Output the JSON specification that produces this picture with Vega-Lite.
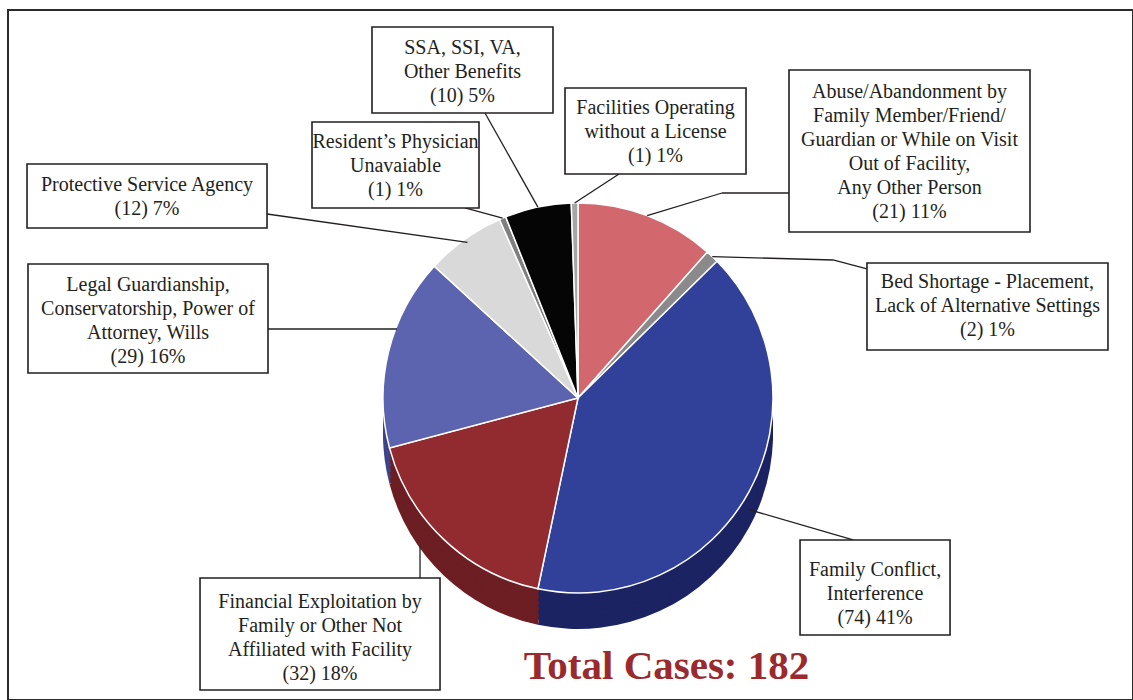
{
  "$schema": "https://vega.github.io/schema/vega-lite/v6.json",
  "width": 1125,
  "height": 690,
  "autosize": {"type": "none"},
  "padding": {"left": 8, "top": 10, "right": 0, "bottom": 0},
  "background": "white",
  "config": {"view": {"stroke": "#2b2b2b", "strokeWidth": 2}},
  "title": {"text": "Total Cases: 182", "orient": "bottom", "frame": "group", "anchor": "middle", "offset": -53, "dx": 96, "font": "Liberation Serif", "fontSize": 41, "fontWeight": "bold", "color": "#9B2A2F"},
  "data": {"values": [
    {"rank": 1, "category": "Abuse/Abandonment by Family Member/Friend/Guardian or While on Visit Out of Facility, Any Other Person", "count": 21, "label": "Abuse/Abandonment by\nFamily Member/Friend/\nGuardian or While on Visit\nOut of Facility,\nAny Other Person\n(21) 11%"},
    {"rank": 2, "category": "Bed Shortage - Placement, Lack of Alternative Settings", "count": 2, "label": "Bed Shortage - Placement,\nLack of Alternative Settings\n(2) 1%"},
    {"rank": 3, "category": "Family Conflict, Interference", "count": 74, "label": "Family Conflict,\nInterference\n(74) 41%"},
    {"rank": 4, "category": "Financial Exploitation by Family or Other Not Affiliated with Facility", "count": 32, "label": "Financial Exploitation by\nFamily or Other Not\nAffiliated with Facility\n(32) 18%"},
    {"rank": 5, "category": "Legal Guardianship, Conservatorship, Power of Attorney, Wills", "count": 29, "label": "Legal Guardianship,\nConservatorship, Power of\nAttorney, Wills\n(29) 16%"},
    {"rank": 6, "category": "Protective Service Agency", "count": 12, "label": "Protective Service Agency\n(12) 7%"},
    {"rank": 7, "category": "Resident’s Physician Unavaiable", "count": 1, "label": "Resident’s Physician\nUnavaiable\n(1) 1%"},
    {"rank": 8, "category": "SSA, SSI, VA, Other Benefits", "count": 10, "label": "SSA, SSI, VA,\nOther Benefits\n(10) 5%"},
    {"rank": 9, "category": "Facilities Operating without a License", "count": 1, "label": "Facilities Operating\nwithout a License\n(1) 1%"}
  ]},
  "transform": [
    {"joinaggregate": [{"op": "sum", "field": "count", "as": "total"}]},
    {"window": [{"op": "sum", "field": "count", "as": "cum"}], "sort": [{"field": "rank"}], "frame": [null, 0]},
    {"calculate": "2*PI*(datum.cum - datum.count/2)/datum.total", "as": "midAngle"},
    {"calculate": "195*sin(datum.midAngle)", "as": "px"},
    {"calculate": "195*cos(datum.midAngle)", "as": "py"}
  ],
  "layer": [
    {"encoding": {
      "x": {"datum": 0, "type": "quantitative", "scale": {"domain": [-570, 555], "nice": false, "zero": false}, "axis": null},
      "y": {"datum": 0, "type": "quantitative", "scale": {"domain": [-302, 388], "nice": false, "zero": false}, "axis": null}
     },
     "layer": [
      {"mark": {"type": "arc", "outerRadius": 195, "yOffset": 36}, "encoding": {"theta": {"field": "count", "type": "quantitative", "stack": true}, "order": {"field": "rank", "type": "quantitative"}, "fill": {"field": "category", "type": "nominal", "legend": null, "scale": {"domain": ["Abuse/Abandonment by Family Member/Friend/Guardian or While on Visit Out of Facility, Any Other Person", "Bed Shortage - Placement, Lack of Alternative Settings", "Family Conflict, Interference", "Financial Exploitation by Family or Other Not Affiliated with Facility", "Legal Guardianship, Conservatorship, Power of Attorney, Wills", "Protective Service Agency", "Resident’s Physician Unavaiable", "SSA, SSI, VA, Other Benefits", "Facilities Operating without a License"], "range": ["#A04A50", "#5A5A5A", "#1B2363", "#6C1E22", "#3D448A", "#A8A8A8", "#555555", "#000000", "#777777"]}}}},
      {"mark": {"type": "arc", "outerRadius": 195, "yOffset": 30}, "encoding": {"theta": {"field": "count", "type": "quantitative", "stack": true}, "order": {"field": "rank", "type": "quantitative"}, "fill": {"field": "category", "type": "nominal", "legend": null}}},
      {"mark": {"type": "arc", "outerRadius": 195, "yOffset": 24}, "encoding": {"theta": {"field": "count", "type": "quantitative", "stack": true}, "order": {"field": "rank", "type": "quantitative"}, "fill": {"field": "category", "type": "nominal", "legend": null}}},
      {"mark": {"type": "arc", "outerRadius": 195, "yOffset": 18}, "encoding": {"theta": {"field": "count", "type": "quantitative", "stack": true}, "order": {"field": "rank", "type": "quantitative"}, "fill": {"field": "category", "type": "nominal", "legend": null}}},
      {"mark": {"type": "arc", "outerRadius": 195, "yOffset": 12}, "encoding": {"theta": {"field": "count", "type": "quantitative", "stack": true}, "order": {"field": "rank", "type": "quantitative"}, "fill": {"field": "category", "type": "nominal", "legend": null}}},
      {"mark": {"type": "arc", "outerRadius": 195, "yOffset": 6}, "encoding": {"theta": {"field": "count", "type": "quantitative", "stack": true}, "order": {"field": "rank", "type": "quantitative"}, "fill": {"field": "category", "type": "nominal", "legend": null}}},
      {"mark": {"type": "arc", "outerRadius": 195, "stroke": "white", "strokeWidth": 1.5}, "encoding": {"theta": {"field": "count", "type": "quantitative", "stack": true}, "order": {"field": "rank", "type": "quantitative"}, "color": {"field": "category", "type": "nominal", "legend": null, "scale": {"domain": ["Abuse/Abandonment by Family Member/Friend/Guardian or While on Visit Out of Facility, Any Other Person", "Bed Shortage - Placement, Lack of Alternative Settings", "Family Conflict, Interference", "Financial Exploitation by Family or Other Not Affiliated with Facility", "Legal Guardianship, Conservatorship, Power of Attorney, Wills", "Protective Service Agency", "Resident’s Physician Unavaiable", "SSA, SSI, VA, Other Benefits", "Facilities Operating without a License"], "range": ["#D2686E", "#8A8A8A", "#31419A", "#922B30", "#5C64B0", "#D9D9D9", "#7F7F7F", "#050505", "#A6A6A6"]}}}}
     ]},
    {"transform": [{"filter": "datum.rank == 1"}],
     "encoding": {"x": {"field": "px", "type": "quantitative", "scale": {"domain": [-570, 555], "nice": false, "zero": false}, "axis": null}, "y": {"field": "py", "type": "quantitative", "scale": {"domain": [-302, 388], "nice": false, "zero": false}, "axis": null}},
     "layer": [
       {"mark": {"type": "rule", "color": "#231F20", "strokeWidth": 1.3, "x2Offset": 74.85, "y2Offset": -22.67}, "encoding": {"x2": {"field": "px"}, "y2": {"field": "py"}}},
       {"mark": {"type": "rule", "color": "#231F20", "strokeWidth": 1.3, "xOffset": 74.85, "yOffset": -22.67, "x2Offset": 141.85, "y2Offset": -22.67}, "encoding": {"x2": {"field": "px"}, "y2": {"field": "py"}}},
       {"mark": {"type": "point", "shape": "M-1,-0.6722H1V0.6722H-1Z", "size": 58081, "filled": true, "fill": "white", "stroke": "#231F20", "strokeWidth": 1.6, "opacity": 1, "xOffset": 262.35, "yOffset": -64.67}},
       {"mark": {"type": "text", "align": "center", "baseline": "top", "dx": 262.35, "dy": -133.67, "font": "Liberation Serif", "fontSize": 20, "lineHeight": 24, "lineBreak": "\n", "color": "#231F20"}, "encoding": {"text": {"field": "label", "type": "nominal"}}}
     ]},
    {"transform": [{"filter": "datum.rank == 2"}],
     "encoding": {"x": {"field": "px", "type": "quantitative", "scale": {"domain": [-570, 555], "nice": false, "zero": false}, "axis": null}, "y": {"field": "py", "type": "quantitative", "scale": {"domain": [-302, 388], "nice": false, "zero": false}, "axis": null}},
     "layer": [
       {"mark": {"type": "rule", "color": "#231F20", "strokeWidth": 1.3, "x2Offset": 120.71, "y2Offset": 3.39}, "encoding": {"x2": {"field": "px"}, "y2": {"field": "py"}}},
       {"mark": {"type": "rule", "color": "#231F20", "strokeWidth": 1.3, "xOffset": 120.71, "yOffset": 3.39, "x2Offset": 154.71, "y2Offset": 12.39}, "encoding": {"x2": {"field": "px"}, "y2": {"field": "py"}}},
       {"mark": {"type": "point", "shape": "M-1,-0.361H1V0.361H-1Z", "size": 58081, "filled": true, "fill": "white", "stroke": "#231F20", "strokeWidth": 1.6, "opacity": 1, "xOffset": 275.21, "yOffset": 49.89}},
       {"mark": {"type": "text", "align": "center", "baseline": "top", "dx": 275.21, "dy": 15.39, "font": "Liberation Serif", "fontSize": 20, "lineHeight": 24, "lineBreak": "\n", "color": "#231F20"}, "encoding": {"text": {"field": "label", "type": "nominal"}}}
     ]},
    {"transform": [{"filter": "datum.rank == 3"}],
     "encoding": {"x": {"field": "px", "type": "quantitative", "scale": {"domain": [-570, 555], "nice": false, "zero": false}, "axis": null}, "y": {"field": "py", "type": "quantitative", "scale": {"domain": [-302, 388], "nice": false, "zero": false}, "axis": null}},
     "layer": [
       {"mark": {"type": "rule", "color": "#231F20", "strokeWidth": 1.3, "yOffset": 18, "x2Offset": 103.97, "y2Offset": 48.41}, "encoding": {"x2": {"field": "px"}, "y2": {"field": "py"}}},
       {"mark": {"type": "point", "shape": "M-1,-0.6333H1V0.6333H-1Z", "size": 22500, "filled": true, "fill": "white", "stroke": "#231F20", "strokeWidth": 1.6, "opacity": 1, "xOffset": 125.97, "yOffset": 95.91}},
       {"mark": {"type": "text", "align": "center", "baseline": "top", "dx": 125.97, "dy": 68.41, "font": "Liberation Serif", "fontSize": 20, "lineHeight": 24, "lineBreak": "\n", "color": "#231F20"}, "encoding": {"text": {"field": "label", "type": "nominal"}}}
     ]},
    {"transform": [{"filter": "datum.rank == 4"}],
     "encoding": {"x": {"field": "px", "type": "quantitative", "scale": {"domain": [-570, 555], "nice": false, "zero": false}, "axis": null}, "y": {"field": "py", "type": "quantitative", "scale": {"domain": [-302, 388], "nice": false, "zero": false}, "axis": null}},
     "layer": [
       {"mark": {"type": "rule", "color": "#231F20", "strokeWidth": 1.3, "xOffset": -23.71, "yOffset": 6.61, "x2Offset": -23.71, "y2Offset": 38.61}, "encoding": {"x2": {"field": "px"}, "y2": {"field": "py"}}},
       {"mark": {"type": "point", "shape": "M-1,-0.4667H1V0.4667H-1Z", "size": 57600, "filled": true, "fill": "white", "stroke": "#231F20", "strokeWidth": 1.6, "opacity": 1, "xOffset": -123.71, "yOffset": 94.61}},
       {"mark": {"type": "text", "align": "center", "baseline": "top", "dx": -123.71, "dy": 52.61, "font": "Liberation Serif", "fontSize": 20, "lineHeight": 24, "lineBreak": "\n", "color": "#231F20"}, "encoding": {"text": {"field": "label", "type": "nominal"}}}
     ]},
    {"transform": [{"filter": "datum.rank == 5"}],
     "encoding": {"x": {"field": "px", "type": "quantitative", "scale": {"domain": [-570, 555], "nice": false, "zero": false}, "axis": null}, "y": {"field": "py", "type": "quantitative", "scale": {"domain": [-302, 388], "nice": false, "zero": false}, "axis": null}},
     "layer": [
       {"mark": {"type": "rule", "color": "#231F20", "strokeWidth": 1.3, "xOffset": 8.33, "yOffset": -22.33, "x2Offset": -120.67, "y2Offset": -22.33}, "encoding": {"x2": {"field": "px"}, "y2": {"field": "py"}}},
       {"mark": {"type": "point", "shape": "M-1,-0.4542H1V0.4542H-1Z", "size": 57600, "filled": true, "fill": "white", "stroke": "#231F20", "strokeWidth": 1.6, "opacity": 1, "xOffset": -240.67, "yOffset": -32.83}},
       {"mark": {"type": "text", "align": "center", "baseline": "top", "dx": -240.67, "dy": -76.33, "font": "Liberation Serif", "fontSize": 20, "lineHeight": 24, "lineBreak": "\n", "color": "#231F20"}, "encoding": {"text": {"field": "label", "type": "nominal"}}}
     ]},
    {"transform": [{"filter": "datum.rank == 6"}],
     "encoding": {"x": {"field": "px", "type": "quantitative", "scale": {"domain": [-570, 555], "nice": false, "zero": false}, "axis": null}, "y": {"field": "py", "type": "quantitative", "scale": {"domain": [-302, 388], "nice": false, "zero": false}, "axis": null}},
     "layer": [
       {"mark": {"type": "rule", "color": "#231F20", "strokeWidth": 1.3, "xOffset": 3, "yOffset": 3, "x2Offset": -197.46, "y2Offset": -25.46}, "encoding": {"x2": {"field": "px"}, "y2": {"field": "py"}}},
       {"mark": {"type": "point", "shape": "M-1,-0.2667H1V0.2667H-1Z", "size": 57600, "filled": true, "fill": "white", "stroke": "#231F20", "strokeWidth": 1.6, "opacity": 1, "xOffset": -317.46, "yOffset": -43.46}},
       {"mark": {"type": "text", "align": "center", "baseline": "top", "dx": -317.46, "dy": -64.46, "font": "Liberation Serif", "fontSize": 20, "lineHeight": 24, "lineBreak": "\n", "color": "#231F20"}, "encoding": {"text": {"field": "label", "type": "nominal"}}}
     ]},
    {"transform": [{"filter": "datum.rank == 7"}],
     "encoding": {"x": {"field": "px", "type": "quantitative", "scale": {"domain": [-570, 555], "nice": false, "zero": false}, "axis": null}, "y": {"field": "py", "type": "quantitative", "scale": {"domain": [-302, 388], "nice": false, "zero": false}, "axis": null}},
     "layer": [
       {"mark": {"type": "rule", "color": "#231F20", "strokeWidth": 1.3, "x2Offset": -37.6, "y2Offset": -10.17}, "encoding": {"x2": {"field": "px"}, "y2": {"field": "py"}}},
       {"mark": {"type": "point", "shape": "M-1,-0.515H1V0.515H-1Z", "size": 27889, "filled": true, "fill": "white", "stroke": "#231F20", "strokeWidth": 1.6, "opacity": 1, "xOffset": -107.1, "yOffset": -53.17}},
       {"mark": {"type": "text", "align": "center", "baseline": "top", "dx": -107.1, "dy": -86.17, "font": "Liberation Serif", "fontSize": 20, "lineHeight": 24, "lineBreak": "\n", "color": "#231F20"}, "encoding": {"text": {"field": "label", "type": "nominal"}}}
     ]},
    {"transform": [{"filter": "datum.rank == 8"}],
     "encoding": {"x": {"field": "px", "type": "quantitative", "scale": {"domain": [-570, 555], "nice": false, "zero": false}, "axis": null}, "y": {"field": "py", "type": "quantitative", "scale": {"domain": [-302, 388], "nice": false, "zero": false}, "axis": null}},
     "layer": [
       {"mark": {"type": "rule", "color": "#231F20", "strokeWidth": 1.3, "x2Offset": -52.9, "y2Offset": -94.17}, "encoding": {"x2": {"field": "px"}, "y2": {"field": "py"}}},
       {"mark": {"type": "point", "shape": "M-1,-0.4751H1V0.4751H-1Z", "size": 32761, "filled": true, "fill": "white", "stroke": "#231F20", "strokeWidth": 1.6, "opacity": 1, "xOffset": -75.4, "yOffset": -137.17}},
       {"mark": {"type": "text", "align": "center", "baseline": "top", "dx": -75.4, "dy": -169.17, "font": "Liberation Serif", "fontSize": 20, "lineHeight": 24, "lineBreak": "\n", "color": "#231F20"}, "encoding": {"text": {"field": "label", "type": "nominal"}}}
     ]},
    {"transform": [{"filter": "datum.rank == 9"}],
     "encoding": {"x": {"field": "px", "type": "quantitative", "scale": {"domain": [-570, 555], "nice": false, "zero": false}, "axis": null}, "y": {"field": "py", "type": "quantitative", "scale": {"domain": [-302, 388], "nice": false, "zero": false}, "axis": null}},
     "layer": [
       {"mark": {"type": "rule", "color": "#231F20", "strokeWidth": 1.3, "x2Offset": 44.37, "y2Offset": -29.03}, "encoding": {"x2": {"field": "px"}, "y2": {"field": "py"}}},
       {"mark": {"type": "point", "shape": "M-1,-0.4751H1V0.4751H-1Z", "size": 32761, "filled": true, "fill": "white", "stroke": "#231F20", "strokeWidth": 1.6, "opacity": 1, "xOffset": 80.87, "yOffset": -72.03}},
       {"mark": {"type": "text", "align": "center", "baseline": "top", "dx": 80.87, "dy": -105.03, "font": "Liberation Serif", "fontSize": 20, "lineHeight": 24, "lineBreak": "\n", "color": "#231F20"}, "encoding": {"text": {"field": "label", "type": "nominal"}}}
     ]}
  ]
}
